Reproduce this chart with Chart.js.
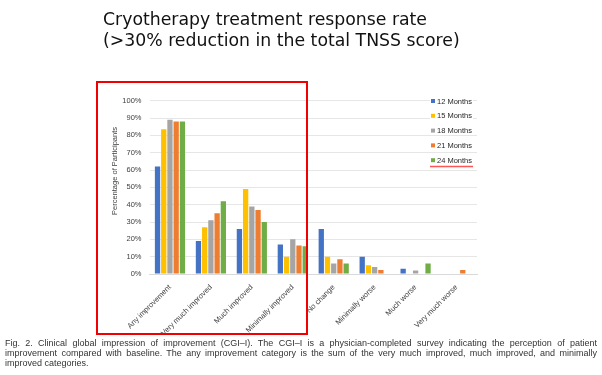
<!DOCTYPE html>
<html>
<head>
<meta charset="utf-8">
<script src="https://cdn.jsdelivr.net/npm/chart.js@4"></script>
<style>
  html, body { margin: 0; padding: 0; background: #fff; }
  body { width: 602px; height: 375px; position: relative; overflow: hidden; }
  #c { position: absolute; left: 0; top: 0; }
  .title {
    position: absolute; left: 103px; top: 9px;
    font-family: "DejaVu Sans", Verdana, sans-serif; font-size: 17.3px;
    line-height: 20.5px; color: #111;
  }
  .box {
    position: absolute; left: 96px; top: 81px; width: 208px; height: 250px;
    border: 2px solid #f00000;
  }
  .cap {
    position: absolute; left: 5px; top: 339px; width: 592px;
    font-family: "Liberation Sans", Arial, sans-serif; font-size: 9px;
    line-height: 9.8px; color: #333;
  }
  .cap span { display: block; text-align: justify; text-align-last: justify; white-space: nowrap; }
  .cap span.last { text-align-last: left; }
</style>
</head>
<body>
<canvas id="c" width="602" height="375"></canvas>
<div class="title">Cryotherapy treatment response rate<br>(&gt;30% reduction in the total TNSS score)</div>
<div class="box"></div>
<div class="cap">
  <span>Fig. 2. Clinical global impression of improvement (CGI–I). The CGI–I is a physician-completed survey indicating the perception of patient</span>
  <span>improvement compared with baseline. The any improvement category is the sum of the very much improved, much improved, and minimally</span>
  <span class="last">improved categories.</span>
</div>
<script>
// 数据
var CATEGORIES = ['Any improvement', 'Very much improved', 'Much improved', 'Minimally improved',
                  'No change', 'Minimally worse', 'Much worse', 'Very much worse'];
var SERIES_NAMES = ['12 Months', '15 Months', '18 Months', '21 Months', '24 Months'];
var M12 = [62, 19, 26, 17, 26, 10, 3, 0];
var M15 = [83.5, 27, 49, 10, 10, 5, 0, 0];
var M18 = [89, 31, 39, 20, 6, 4, 2, 0];
var M21 = [88, 35, 37, 16.5, 8.5, 2.3, 0, 2.3];
var M24 = [88, 42, 30, 16, 6, 0, 6, 0];
var Y_TICKS = [0, 10, 20, 30, 40, 50, 60, 70, 80, 90, 100];

var COLORS = ['#4472c4', '#ffc000', '#a5a5a5', '#ed7d31', '#70ad47'];
var VALUES = [M12, M15, M18, M21, M24];

var datasets = SERIES_NAMES.map(function (name, i) {
  return {
    label: name,
    data: VALUES[i],
    backgroundColor: COLORS[i],
    categoryPercentage: 0.76,
    barPercentage: 0.85
  };
});

// 图例 + 轴标题，自己画
var extras = {
  id: 'extras',
  afterDraw: function (chart) {
    var ctx = chart.ctx;
    ctx.save();
    // y axis title
    ctx.translate(115, 171);
    ctx.rotate(-Math.PI / 2);
    ctx.font = '7.5px "Liberation Sans", Arial, sans-serif';
    ctx.fillStyle = '#404040';
    ctx.textAlign = 'center';
    ctx.textBaseline = 'middle';
    ctx.fillText('Percentage of Participants', 0, 0);
    ctx.restore();

    ctx.save();
    ctx.font = '7.5px "Liberation Sans", Arial, sans-serif';
    ctx.textBaseline = 'middle';
    var x0 = 431, y0 = 101, dy = 14.8;
    SERIES_NAMES.forEach(function (name, i) {
      var y = y0 + i * dy;
      var w = ctx.measureText(name).width;
      ctx.fillStyle = '#fff';
      ctx.fillRect(x0 - 1, y - 4, w + 8, 8);
      ctx.fillStyle = COLORS[i];
      ctx.fillRect(x0, y - 2, 4, 4);
      ctx.fillStyle = '#262626';
      ctx.fillText(name, x0 + 6, y + 0.5);
    });
    ctx.strokeStyle = '#ff5555';
    ctx.lineWidth = 1.5;
    ctx.beginPath();
    ctx.moveTo(430, 166.5);
    ctx.lineTo(473, 166.5);
    ctx.stroke();
    ctx.restore();
  }
};

new Chart(document.getElementById('c'), {
  type: 'bar',
  data: { labels: CATEGORIES, datasets: datasets },
  options: {
    responsive: false,
    animation: false,
    layout: { padding: { left: 100, right: 125, top: 100.7, bottom: 41 } },
    plugins: { legend: { display: false }, tooltip: { enabled: false } },
    scales: {
      x: {
        grid: { display: false },
        border: { color: '#d9d9d9', width: 1 },
        ticks: {
          color: '#404040',
          font: { family: '"Liberation Sans", Arial, sans-serif', size: 7.5 },
          minRotation: 45, maxRotation: 45, padding: 1
        },
        afterFit: function (s) { s.height = 60; }
      },
      y: {
        min: 0, max: 100,
        afterBuildTicks: function (s) { s.ticks = Y_TICKS.map(function (v) { return { value: v }; }); },
        grid: { color: '#e6e6e6', lineWidth: 1, drawTicks: false },
        border: { display: false },
        ticks: {
          color: '#404040',
          font: { family: '"Liberation Sans", Arial, sans-serif', size: 7.5 },
          padding: 8,
          callback: function (v) { return v + '%'; }
        },
        afterFit: function (s) { s.width = 49.5; }
      }
    }
  },
  plugins: [extras]
});
</script>
</body>
</html>
